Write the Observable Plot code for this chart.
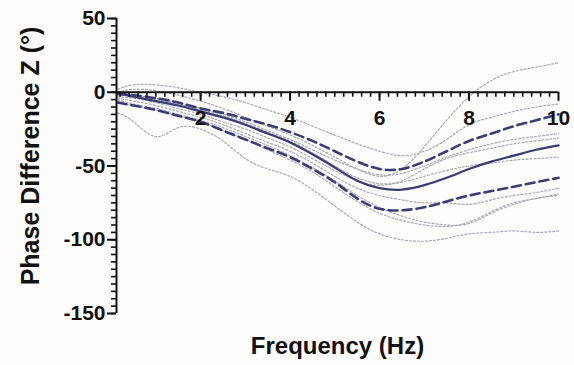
<!DOCTYPE html>
<html>
<head>
<meta charset="utf-8">
<script src="https://cdn.jsdelivr.net/npm/d3@7"></script>
<script src="https://cdn.jsdelivr.net/npm/@observablehq/plot@0.6"></script>
<style>
  html, body { margin: 0; padding: 0; background: #fefdfb; }
  #chart svg { display: block; }
</style>
</head>
<body>
<div id="chart"></div>
<script>
// Frequency samples (Hz)
const freq = [0.15, 0.5, 1, 1.5, 2, 2.5, 3, 3.5, 4, 4.5, 5, 5.5, 6, 6.5, 7, 7.5, 8, 8.5, 9, 9.5, 10];

// Group mean and band (dashed)
const meanPhase  = [-1, -3, -6, -9, -13, -17, -22, -28, -34, -42, -51, -60, -65, -66, -63, -58, -52, -47, -43, -39, -36];
const upperPhase = [-1, -2, -4, -7, -11, -14, -18, -22, -27, -33, -40, -47, -52, -52, -47, -40, -33, -28, -23, -19, -15];
const lowerPhase = [-7, -9, -12, -16, -20, -26, -32, -38, -44, -52, -61, -72, -79, -80, -78, -74, -70, -67, -64, -61, -58];

// Individual subjects (dotted)
const subjA = [0, 2, 1, -2, -6, -11, -17, -23, -29, -36, -44, -52, -57, -52, -37, -19, -3, 8, 14, 17, 20];
const subjB = [2, 5, 5, 3, 0, -3, -7, -12, -17, -23, -29, -35, -40, -43, -40, -32, -22, -17, -13, -10, -8];
const subjC = [-2, -2, -4, -7, -11, -15, -20, -26, -32, -39, -46, -52, -56, -55, -50, -44, -39, -35, -32, -30, -28];
const subjD = [-3, -4, -7, -11, -15, -20, -25, -31, -37, -45, -53, -60, -63, -60, -52, -45, -41, -38, -35, -33, -31];
const subjE = [-4, -6, -9, -13, -17, -22, -28, -34, -40, -48, -57, -65, -70, -73, -75, -75, -76, -73, -70, -68, -65];
const subjF = [-6, -9, -12, -16, -20, -26, -32, -39, -46, -54, -64, -74, -82, -87, -90, -91, -88, -81, -75, -72, -69];
const subjG = [-14, -20, -30, -24, -25, -33, -45, -52, -57, -66, -77, -88, -96, -100, -101, -99, -96, -95, -94, -95, -94];
const subjH = [-5, -8, -11, -15, -19, -24, -30, -36, -43, -51, -60, -70, -78, -84, -88, -90, -89, -82, -76, -72, -70];
const subjI = [-1, -3, -5, -8, -12, -16, -21, -27, -33, -41, -50, -58, -62, -61, -57, -53, -50, -48, -46, -45, -44];

const subjects = [subjA, subjB, subjC, subjD, subjE, subjF, subjG, subjH, subjI];

// Axis ticks
const xMajorTicks = [2, 4, 6, 8, 10];
const xMinorTicks = d3.range(1, 50).map(i => +(i * 0.2).toFixed(1));
const yMajorTicks = [50, 0, -50, -100, -150];
const yMinorTicks = d3.range(-150, 51, 5);

const yTitle = "Phase Difference Z (°)";
const xTitle = "Frequency (Hz)";

// Tables
const toRows = (vals, id) => vals.map((v, i) => ({f: freq[i], p: v, id}));
const subjRows = subjects.flatMap((s, k) => toRows(s, "s" + k));
const meanRows = toRows(meanPhase, "mean");
const bandRows = [...toRows(upperPhase, "upper"), ...toRows(lowerPhase, "lower")];

const navy = "#3a3c78";
const bold = {fontWeight: "bold"};

const chart = Plot.plot({
  width: 574,
  height: 365,
  marginLeft: 116,
  marginRight: 16,
  marginTop: 18,
  marginBottom: 52,
  x: {domain: [0.12, 10], axis: null},
  y: {domain: [-150, 50]},
  style: {fontFamily: "'Liberation Sans', Arial, sans-serif", background: "transparent", color: "#111"},
  marks: [
    Plot.line(subjRows, {x: "f", y: "p", z: "id", curve: "natural", stroke: "#a8a8b4", strokeWidth: 1.2, strokeDasharray: "2,2"}),
    Plot.line(bandRows, {x: "f", y: "p", z: "id", curve: "natural", stroke: navy, strokeWidth: 2.6, strokeDasharray: "9,5"}),
    Plot.line(meanRows, {x: "f", y: "p", curve: "natural", stroke: navy, strokeWidth: 2.2}),
    // x axis drawn at y = 0
    Plot.ruleY([0], {stroke: "#111", strokeWidth: 2}),
    Plot.ruleX(xMinorTicks, {x: d => d, y1: 0, y2: 0, insetBottom: -5, stroke: "#111", strokeWidth: 1.6}),
    Plot.ruleX(xMajorTicks, {x: d => d, y1: 0, y2: 0, insetBottom: -9, stroke: "#111", strokeWidth: 2}),
    Plot.text(xMajorTicks, {x: d => d, y: 0, dy: 26, text: d => String(d), fontSize: 21, ...bold, fill: "#111"}),
    // y axis
    Plot.ruleX([0.12], {stroke: "#111", strokeWidth: 2}),
    Plot.axisY(yMinorTicks, {tickSize: 5, text: null, strokeWidth: 1.6, label: null}),
    Plot.axisY(yMajorTicks, {tickSize: 9, tickPadding: 2, strokeWidth: 2, fontSize: 21, ...bold, tickFormat: d => String(d), label: null}),
    // titles
    Plot.text([yTitle], {frameAnchor: "left", textAnchor: "middle", rotate: -90, dx: -86, dy: -10, fontSize: 25, ...bold, fill: "#111"}),
    Plot.text([xTitle], {frameAnchor: "bottom", dy: 40, fontSize: 24, ...bold, fill: "#111"})
  ]
});

document.getElementById("chart").appendChild(chart);
</script>
</body>
</html>
